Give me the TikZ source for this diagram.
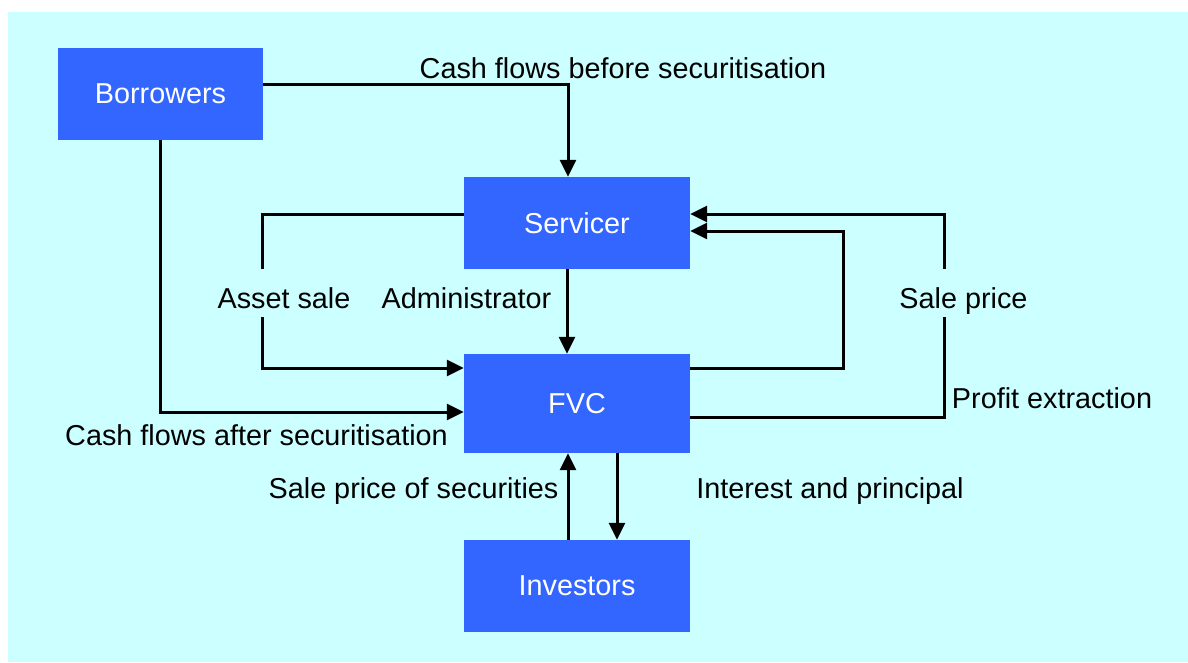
\documentclass[tikz,border=0pt]{standalone}
\usepackage{fontspec}
\setmainfont{Liberation Sans}
\usetikzlibrary{arrows.meta}
\definecolor{bgcyan}{HTML}{CCFFFF}
\definecolor{boxblue}{HTML}{3366FF}
\begin{document}
\begin{tikzpicture}[x=1pt,y=-1pt,
  party/.style={draw=none,fill=boxblue,text=white,inner sep=0pt,
    minimum width=226pt,minimum height=92pt,
    font=\fontsize{28.8pt}{34pt}\selectfont},
  flow/.style={line width=3pt,-{Triangle[length=17pt,width=16pt]}},
  plain/.style={line width=3pt},
  lbl/.style={anchor=base,inner sep=0pt,text=black,
    font=\fontsize{28.8pt}{34pt}\selectfont},
  gaplbl/.style={lbl,fill=bgcyan,text height=39pt,text depth=9pt}]
\useasboundingbox (0,0) rectangle (1188,662);
\fill[bgcyan] (8,12) rectangle (1188,662);

% parties
\node[party,minimum width=205pt] (bor) at (160.5,94) {Borrowers};
\node[party] (ser) at (577,223) {Servicer};
\node[party,minimum height=99pt] (fvc) at (577,403.5) {FVC};
\node[party] (inv) at (577,586) {Investors};

% flows
\draw[flow] ([yshift=10pt]bor.east) -| ([xshift=-9pt]ser.north);
\draw[flow] ([xshift=-0.5pt]bor.south) |- ([yshift=-8.5pt]fvc.west);
\draw[flow] ([yshift=9pt]ser.west) -| (262,300) |- ([yshift=35.5pt]fvc.west);
\draw[flow] ([xshift=-10pt]ser.south) -- ([xshift=-10pt]ser.south |- fvc.north);
\draw[flow] ([yshift=35.5pt]fvc.east) -| (843,300) |- ([yshift=-8pt]ser.east);
\draw[flow] ([yshift=-13.5pt]fvc.east) -| (944,300) |- ([yshift=9pt]ser.east);
\draw[flow] ([xshift=-9pt]inv.north) -- ([xshift=-9pt]inv.north |- fvc.south);
\draw[flow] ([xshift=40pt]fvc.south) -- ([xshift=40pt]fvc.south |- inv.north);

% flow labels
\node[lbl] (l1) at (623,78) {Cash flows before securitisation};
\node[gaplbl] (l2) at (284,308) {Asset sale};
\node[lbl] (l3) at (466.5,308) {Administrator};
\node[gaplbl] (l4) at (963.5,308) {Sale price};
\node[lbl] (l5) at (1052,408) {Profit extraction};
\node[lbl] (l6) at (256.5,445) {Cash flows after securitisation};
\node[lbl] (l7) at (413.5,498) {Sale price of securities};
\node[lbl] (l8) at (830,498) {Interest and principal};
\end{tikzpicture}
\end{document}
